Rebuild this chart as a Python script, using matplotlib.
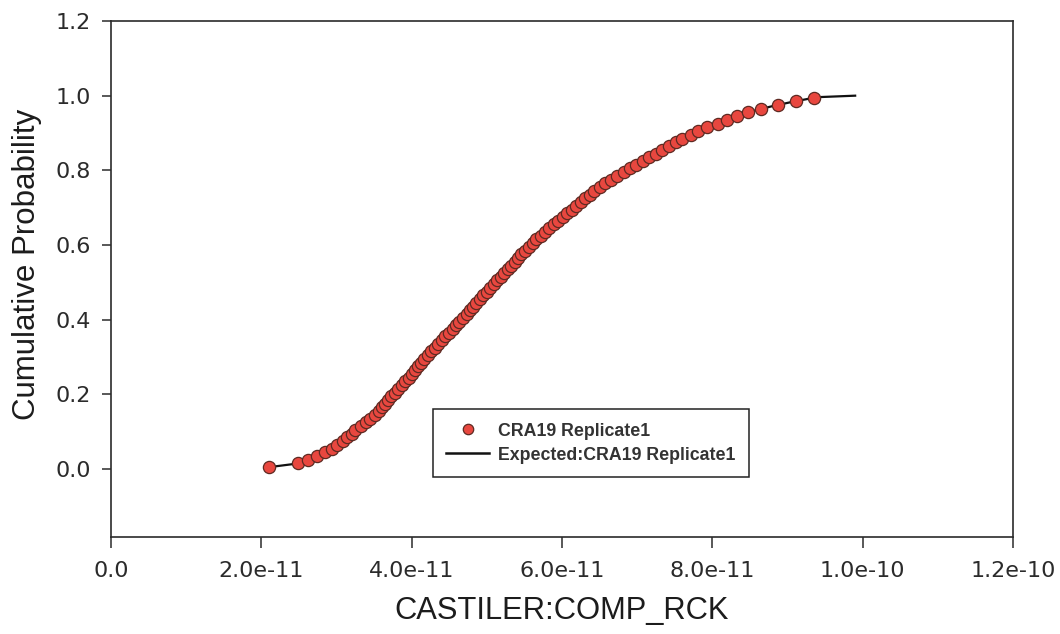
import numpy as np
import matplotlib
matplotlib.use("Agg")
from matplotlib import pyplot as plt
from matplotlib.lines import Line2D

# sampled values of CASTILER:COMP_RCK (units of 1e-11), sorted
comp_rck = np.array([
    2.10, 2.49, 2.62, 2.74, 2.85, 2.94, 3.01, 3.08, 3.14, 3.20,
    3.25, 3.32, 3.39, 3.45, 3.51, 3.56, 3.61, 3.65, 3.69, 3.73,
    3.78, 3.82, 3.87, 3.91, 3.96, 4.00, 4.05, 4.09, 4.13, 4.17,
    4.22, 4.26, 4.31, 4.35, 4.40, 4.45, 4.50, 4.55, 4.59, 4.63,
    4.68, 4.73, 4.77, 4.82, 4.86, 4.91, 4.95, 5.00, 5.04, 5.09,
    5.14, 5.19, 5.23, 5.28, 5.32, 5.37, 5.42, 5.46, 5.51, 5.56,
    5.61, 5.66, 5.72, 5.77, 5.83, 5.89, 5.95, 6.01, 6.07, 6.13,
    6.19, 6.25, 6.31, 6.37, 6.43, 6.50, 6.57, 6.65, 6.73, 6.82,
    6.91, 6.99, 7.08, 7.16, 7.25, 7.33, 7.42, 7.51, 7.60, 7.71,
    7.81, 7.93, 8.07, 8.20, 8.33, 8.47, 8.65, 8.87, 9.11, 9.35,
]) * 1e-11

# empirical cumulative probability of each sample
cum_prob = np.array([
    0.005, 0.015, 0.025, 0.035, 0.045, 0.055, 0.065, 0.075, 0.085, 0.095,
    0.105, 0.115, 0.125, 0.135, 0.145, 0.155, 0.165, 0.175, 0.185, 0.195,
    0.205, 0.215, 0.225, 0.235, 0.245, 0.255, 0.265, 0.275, 0.285, 0.295,
    0.305, 0.315, 0.325, 0.335, 0.345, 0.355, 0.365, 0.375, 0.385, 0.395,
    0.405, 0.415, 0.425, 0.435, 0.445, 0.455, 0.465, 0.475, 0.485, 0.495,
    0.505, 0.515, 0.525, 0.535, 0.545, 0.555, 0.565, 0.575, 0.585, 0.595,
    0.605, 0.615, 0.625, 0.635, 0.645, 0.655, 0.665, 0.675, 0.685, 0.695,
    0.705, 0.715, 0.725, 0.735, 0.745, 0.755, 0.765, 0.775, 0.785, 0.795,
    0.805, 0.815, 0.825, 0.835, 0.845, 0.855, 0.865, 0.875, 0.885, 0.895,
    0.905, 0.915, 0.925, 0.935, 0.945, 0.955, 0.965, 0.975, 0.985, 0.995,
])

# expected distribution curve
expected_x = np.array([
    2.10, 2.49, 2.80, 3.10, 3.40, 3.70, 4.00, 4.30, 4.60, 4.90, 5.20, 5.50, 5.80,
    6.10, 6.40, 6.70, 7.00, 7.30, 7.60, 7.90, 8.20, 8.50, 8.80, 9.10, 9.40, 9.90,
]) * 1e-11
expected_p = np.array([
    0.005, 0.015, 0.040, 0.078, 0.126, 0.188, 0.255, 0.323, 0.390, 0.453, 0.517, 0.579, 0.640,
    0.690, 0.740, 0.781, 0.816, 0.851, 0.885, 0.912, 0.935, 0.957, 0.972, 0.985, 0.996, 1.000,
])

x_ticks = [0.0, 2.0e-11, 4.0e-11, 6.0e-11, 8.0e-11, 1.0e-10, 1.2e-10]
x_ticklabels = ["0.0", "2.0e-11", "4.0e-11", "6.0e-11", "8.0e-11", "1.0e-10", "1.2e-10"]
y_ticks = [0.0, 0.2, 0.4, 0.6, 0.8, 1.0, 1.2]
y_ticklabels = ["0.0", "0.2", "0.4", "0.6", "0.8", "1.0", "1.2"]

pt_color = "#e8473f"
pt_edge = "#5e2a22"
axis_color = "#2b2b2b"
text_color = "#1c1c1c"

fig = plt.figure(figsize=(10.6, 6.34), dpi=100)
ax = fig.add_axes([111/1060, 1 - 537/634, 902/1060, 516/634])

ax.plot(expected_x, expected_p, color="#111111", lw=1.6, zorder=2)
ax.plot(comp_rck, cum_prob, ls="none", marker="o", ms=8.8,
        mfc=pt_color, mec=pt_edge, mew=0.9, zorder=3)

ax.set_xlim(0, 1.2e-10)
ax.set_ylim(-0.182, 1.2)
ax.set_xticks(x_ticks)
ax.set_xticklabels(x_ticklabels, fontsize=16, family="DejaVu Sans", color=text_color)
ax.set_yticks(y_ticks)
ax.set_yticklabels(y_ticklabels, fontsize=16, family="DejaVu Sans", color=text_color)
ax.tick_params(axis="x", direction="out", length=8, width=1.1, pad=9, colors=axis_color)
ax.tick_params(axis="y", direction="out", length=6.5, width=1.1, pad=8, colors=axis_color)
for s in ax.spines.values():
    s.set_linewidth(1.2)
    s.set_color(axis_color)

ax.set_xlabel("CASTILER:COMP_RCK", fontsize=22.2, family="Liberation Sans",
              color=text_color, labelpad=11)
ax.set_ylabel("Cumulative Probability", fontsize=22.5, family="Liberation Sans",
              color=text_color)
# label sits a little above the middle of the axis
ax.yaxis.set_label_coords(-0.077, 0.529)

handles = [
    Line2D([], [], ls="none", marker="o", ms=7.5, mfc=pt_color, mec=pt_edge, mew=0.9),
    Line2D([], [], color="#111111", lw=1.8),
]
leg = ax.legend(handles, ["CRA19 Replicate1", "Expected:CRA19 Replicate1"],
                loc="lower left", bbox_to_anchor=((433 - 111) / 902, (537 - 477) / 516),
                borderaxespad=0, fancybox=False, shadow=False, framealpha=1,
                edgecolor="#222222", numpoints=1, handlelength=2.4, handletextpad=0.5,
                labelspacing=0.4, borderpad=0.75,
                prop={"family": "Liberation Sans", "weight": "bold", "size": 12.8})
leg.get_frame().set_linewidth(1.1)
for t in leg.get_texts():
    t.set_color("#333333")

fig.savefig("out.png", dpi=100)
